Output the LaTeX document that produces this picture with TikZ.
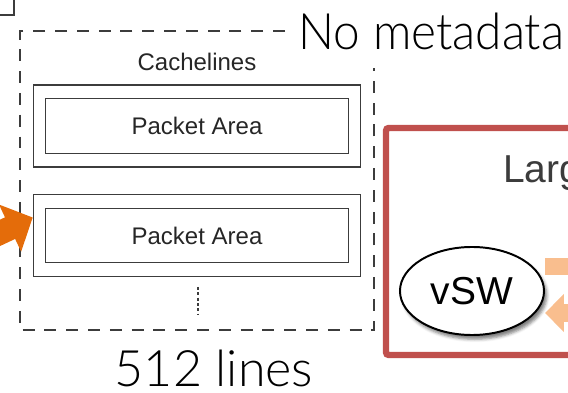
\documentclass[tikz,border=0pt]{standalone}
\usepackage{fontspec}
\setmainfont{Liberation Sans}
\newfontfamily\thinfont{Lato Light}
\newfontfamily\narrowthinfont{Lato Light}[FakeStretch=0.95]
\usetikzlibrary{shapes.geometric,arrows.meta,shadows.blur}
\definecolor{boxred}{RGB}{192,80,77}
\definecolor{hotorange}{RGB}{228,108,10}
\definecolor{paleorange}{RGB}{249,190,142}
\definecolor{linegray}{RGB}{60,60,60}
\begin{document}
\begin{tikzpicture}[x=0.025cm,y=-0.025cm,
    linebox/.style={draw=linegray,line width=0.9pt,minimum width=8.18cm,minimum height=2.05cm},
    pktbox/.style={draw=linegray,line width=0.9pt,minimum width=7.575cm,minimum height=1.36cm,
      text=black!85,font=\fontsize{17.07}{20}\selectfont},
    bigtext/.style={inner sep=0pt,font=\thinfont\fontsize{35.7}{40}\selectfont},
    palearrow/.style={paleorange,line width=12.1pt}]
  \useasboundingbox (0,0) rectangle (568,393);
  \clip (0,0) rectangle (568,393);
  % corner of a box above
  \draw[linegray,line width=0.8pt] (0,15) -- (14,15) -- (14,0);
  % cachelines region
  \draw[linegray,line width=0.8pt,dash pattern=on 8.5pt off 7pt] (285,31) -| (20,330) -| (374,68);
  \node[anchor=base,inner sep=0pt,text=black!85,font=\fontsize{17.07}{20}\selectfont] (cachelines) at (197,71) {Cachelines};
  \node[linebox] (line1) at (197,126) {};
  \node[pktbox] (pkt1) at (line1) {Packet Area};
  \node[linebox] (line2) at (197,235.5) {};
  \node[pktbox] (pkt2) at (line2) {Packet Area};
  \draw[linegray,line width=0.9pt,dash pattern=on 2.2pt off 1.6pt] (198,287) -- (198,315);
  \node[bigtext,anchor=base west,font=\narrowthinfont\fontsize{35.7}{40}\selectfont] (nometa) at (298,50) {No metadata};
  \node[bigtext,anchor=base] (nlines) at (214,387) {512 lines};
  % incoming arrow
  \coordinate (tail) at (-44,253.5);
  \draw[hotorange,line width=17pt,-{Triangle[length=17.8pt,width=36pt]}] (tail) -- ([yshift=0.45cm]line2.west);
  % large box
  \draw[boxred,line width=4.6pt,rounded corners=2pt] (580,128) -- (386,128) -- (386,355) -- (580,355);
  \node[anchor=base west,inner sep=0pt,text=linegray,font=\fontsize{27.7}{32}\selectfont] (large) at (503,183) {Larg};
  \node[ellipse,draw,line width=1.4pt,fill=white,minimum width=3.6cm,minimum height=2.2cm,
    blur shadow={shadow xshift=2pt,shadow yshift=-3pt,shadow opacity=50},
    font=\fontsize{27.7}{32}\selectfont] (vsw) at (472,291) {vSW};
  \coordinate (outR) at (600,266.5);
  \coordinate (inR) at (600,313);
  \draw[palearrow] (vsw.east |- outR) -- (outR);
  \draw[palearrow,-{Triangle[length=13.5pt,width=26.3pt]}] (inR) -- (inR -| vsw.east);
\end{tikzpicture}
\end{document}
